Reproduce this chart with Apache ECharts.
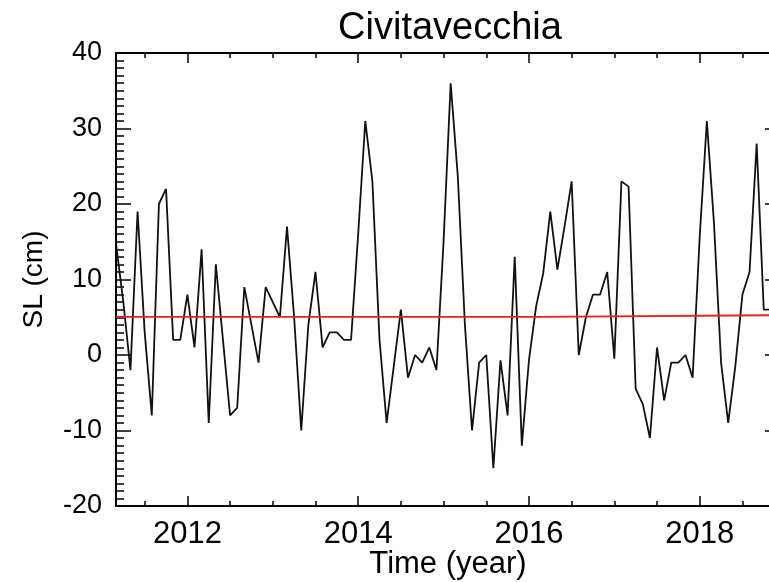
<!DOCTYPE html>
<html>
<head>
<meta charset="utf-8">
<script src="https://cdn.jsdelivr.net/npm/echarts@6/dist/echarts.min.js"></script>
<style>
html,body{margin:0;padding:0;background:#fff;}
#chart{width:769px;height:582px;}
</style>
</head>
<body>
<div id="chart"></div>
<script>
// Monthly sea level series (cm), starting March 2011
var startYear = 2011;
var startMonth = 3;
var seaLevel = [
  14.5, 7, -2, 19, 3, -8, 20, 22, 2, 2, 8, 1,
  14, -9, 12, 2, -8, -7, 9, 4, -1, 9, 7, 5,
  17, 5, -10, 4, 11, 1, 3, 3, 2, 2, 16, 31,
  23, 2, -9, -1.5, 6, -3, 0, -1, 1, -2, 15, 36,
  23.7, 4, -10, -1, 0, -15, -0.7, -8, 13, -12, -0.7, 6.4,
  10.8, 19, 11.3, 17, 23, 0, 5, 8, 8, 11, -0.5, 23,
  22.3, -4.5, -6.5, -11, 1, -6, -1, -1, 0, -3, 15.7, 31,
  17.5, -1, -9, -1.5, 8, 11, 28, 6, 6
];
// Mean level (red line)
var meanX = [2011.1667, 2016.16, 2016.165, 2019.2];
var meanY = [5.05, 5.05, 5.3, 5.3];

var xMajorTicks = [2012, 2014, 2016, 2018];
var xMinorTicks = [2011.5, 2012.5, 2013, 2013.5, 2014.5, 2015, 2015.5, 2016.5, 2017, 2017.5, 2018.5];

var titleText = 'Civitavecchia';
var xName = 'Time (year)';
var yName = 'SL (cm)';

var seriesData = seaLevel.map(function (v, i) {
  return [startYear + (startMonth - 1 + i) / 12, v];
});
var meanData = meanX.map(function (x, i) { return [x, meanY[i]]; });

var FONT = 'Liberation Sans, Arial, Helvetica, sans-serif';
var xMin = 2011.164, xMax = 2018.94;

function xAx(pos, custom, len, withLabel, withLine) {
  return {
    type: 'value', position: pos, min: xMin, max: xMax,
    axisLine: {show: withLine, onZero: false, lineStyle: {color: '#000', width: 2}},
    axisTick: {show: true, inside: true, length: len, customValues: custom, lineStyle: {color: '#000', width: 1.5}},
    axisLabel: withLabel ? {show: true, customValues: xMajorTicks, margin: 13, color: '#000', fontSize: 31, fontFamily: FONT,
      formatter: function (v) { return String(Math.round(v)); }} : {show: false},
    splitLine: {show: false},
    name: withLabel ? xName : '',
    nameLocation: 'middle', nameGap: 43, nameMoveOverlap: false,
    nameTextStyle: {color: '#000', fontSize: 31, fontFamily: FONT}
  };
}

var chart = echarts.init(document.getElementById('chart'), null, {renderer: 'canvas'});
chart.setOption({
  animation: false,
  backgroundColor: '#fff',
  title: {
    text: titleText, left: 445, top: 5, textAlign: 'center',
    textStyle: {color: '#000', fontSize: 38, fontWeight: 'normal', fontFamily: FONT}
  },
  grid: {left: 116, top: 53, width: 664, height: 453, containLabel: false, outerBoundsMode: 'none'},
  xAxis: [
    xAx('bottom', xMajorTicks, 10, true, true),
    xAx('bottom', xMinorTicks, 5, false, false),
    xAx('top', xMajorTicks, 10, false, true),
    xAx('top', xMinorTicks, 5, false, false)
  ],
  yAxis: [
    {
      type: 'value', position: 'left', min: -20, max: 40, interval: 10,
      axisLine: {show: true, onZero: false, lineStyle: {color: '#000', width: 2}},
      axisTick: {show: true, inside: true, length: 15, lineStyle: {color: '#000', width: 1.5}},
      minorTick: {show: true, splitNumber: 10, length: 8, lineStyle: {color: '#000', width: 1.5}},
      axisLabel: {color: '#000', fontSize: 27, fontFamily: FONT, margin: 14},
      splitLine: {show: false},
      name: yName, nameLocation: 'middle', nameGap: 68, nameRotate: 90, nameMoveOverlap: false,
      nameTextStyle: {color: '#000', fontSize: 28, fontFamily: FONT}
    },
    {
      type: 'value', position: 'right', min: -20, max: 40, interval: 10,
      axisLine: {show: true, onZero: false, lineStyle: {color: '#000', width: 2}},
      axisTick: {show: true, inside: true, length: 15, lineStyle: {color: '#000', width: 1.5}},
      minorTick: {show: true, splitNumber: 10, length: 8, lineStyle: {color: '#000', width: 1.5}},
      axisLabel: {show: false},
      splitLine: {show: false}
    }
  ],
  series: [
    {
      type: 'line', xAxisIndex: 0, yAxisIndex: 0, data: seriesData,
      showSymbol: false, symbol: 'none', clip: true,
      lineStyle: {color: '#111', width: 1.8}
    },
    {
      type: 'line', xAxisIndex: 0, yAxisIndex: 0, data: meanData,
      showSymbol: false, symbol: 'none', clip: true,
      lineStyle: {color: '#e8231f', width: 1.8}
    }
  ]
});
</script>
</body>
</html>
